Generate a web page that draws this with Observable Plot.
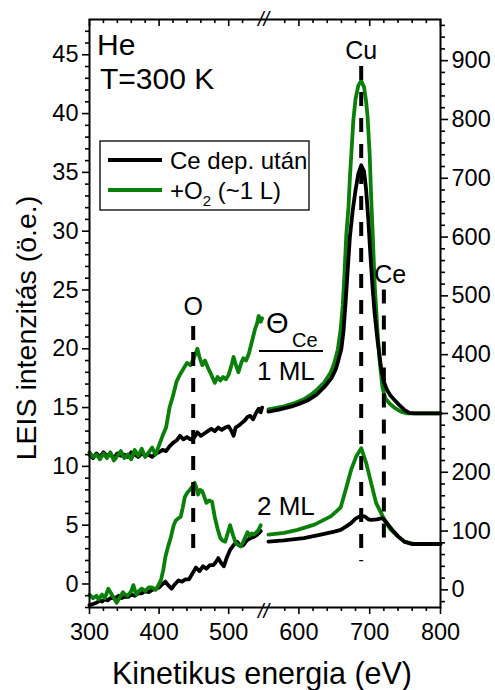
<!DOCTYPE html>
<html>
<head>
<meta charset="utf-8">
<script src="https://cdn.jsdelivr.net/npm/d3@7"></script>
<script src="https://cdn.jsdelivr.net/npm/@observablehq/plot@0.6"></script>
<style>
  html, body { margin: 0; padding: 0; background: #fff; }
  #chart { width: 495px; height: 690px; }
  #chart svg { font-family: "Liberation Sans", Arial, sans-serif; }
</style>
</head>
<body>
<div id="chart"></div>
<script>
// LEIS spectra (He+, T = 300 K). Below the axis break (300–550 eV) values are in
// left-axis units; above it (550–800 eV) they are in right-axis units.

// ---- low-energy section (left axis, a.u.) ----
const ml1CeLow = [[300,11.0],[305,10.7],[310,11.1],[315,10.8],[320,11.2],[325,10.9],[330,11.0],[335,10.7],[340,11.1],[345,10.9],[350,11.0],[355,10.8],[360,11.2],[365,11.0],[370,10.8],[375,11.1],[380,10.9],[385,11.0],[390,10.8],[395,11.1],[400,11.2],[405,11.4],[410,11.3],[415,11.7],[420,12.0],[425,12.2],[430,12.6],[435,12.3],[440,12.5],[445,12.3],[450,12.4],[455,12.9],[460,12.6],[465,12.8],[470,13.0],[475,13.2],[480,13.0],[485,13.3],[490,13.1],[495,13.3],[500,13.4],[504,13.0],[507,12.6],[510,13.3],[515,13.5],[519,13.7],[523,13.9],[527,14.2],[531,14.3],[535,14.0],[539,14.5],[543,14.9],[546,14.6],[548,15.0]];
const ml1O2Low = [[300,11.2],[305,10.8],[310,11.0],[315,10.6],[320,11.1],[325,10.7],[330,11.2],[335,10.5],[340,10.9],[345,11.3],[350,10.7],[355,11.0],[360,10.6],[365,11.4],[370,10.9],[375,11.5],[380,10.8],[385,11.2],[390,11.6],[395,11.0],[400,11.8],[405,12.6],[410,13.3],[415,15.0],[420,16.0],[425,17.2],[430,17.8],[435,18.3],[440,18.8],[445,18.6],[450,19.2],[455,20.0],[458,19.3],[462,18.6],[466,19.0],[470,18.4],[475,17.8],[480,17.1],[484,17.6],[488,17.3],[492,17.6],[496,17.4],[500,17.8],[504,18.6],[507,19.3],[511,18.5],[514,18.0],[518,18.8],[521,19.2],[525,19.0],[529,19.6],[532,20.3],[535,21.0],[538,21.7],[541,22.2],[543,22.8],[546,22.3],[548,22.6]];
const ml2CeLow = [[300,-1.8],[305,-1.7],[310,-1.6],[315,-1.4],[318,-1.5],[322,-1.3],[326,-1.4],[330,-1.2],[337,-1.2],[342,-1.0],[346,-1.2],[350,-1.1],[356,-1.1],[360,-0.9],[365,-1.0],[370,-0.8],[375,-0.8],[380,-0.6],[385,-0.7],[390,-0.5],[395,-0.4],[400,-0.3],[405,0.0],[409,0.2],[413,-0.1],[418,-0.4],[423,0.0],[428,0.3],[433,0.2],[438,0.4],[443,0.4],[448,0.9],[453,1.4],[458,1.1],[463,1.5],[468,1.3],[473,1.6],[478,1.6],[482,1.9],[485,2.2],[489,1.8],[493,1.5],[497,2.2],[502,2.9],[507,3.3],[512,3.6],[517,3.2],[521,3.3],[526,3.7],[531,3.9],[536,4.0],[541,4.2],[546,4.5]];
const ml2O2Low = [[300,-0.9],[305,-1.2],[310,-1.0],[313,-1.3],[318,-0.9],[322,-1.2],[327,-0.4],[332,-0.9],[336,-1.3],[339,-1.6],[344,-1.1],[348,-0.7],[351,-0.9],[355,-1.0],[360,-0.6],[363,-0.1],[367,-0.9],[371,-0.6],[375,-0.4],[380,-0.6],[385,-0.3],[390,-0.3],[395,-0.5],[400,0.0],[403,0.4],[406,1.2],[409,2.3],[413,3.2],[417,4.0],[421,5.0],[424,5.4],[428,5.6],[431,5.7],[434,6.5],[437,7.4],[441,7.8],[444,8.0],[448,8.3],[451,8.6],[454,8.1],[456,7.6],[459,8.0],[462,7.9],[465,7.4],[468,6.9],[472,7.1],[476,7.0],[480,5.7],[484,4.7],[488,3.9],[491,3.7],[495,3.6],[499,4.4],[502,5.0],[506,4.2],[510,3.5],[514,3.3],[517,3.2],[521,3.6],[524,4.0],[527,4.4],[530,4.1],[533,4.3],[536,4.2],[540,4.4],[543,4.6],[546,5.0]];

// ---- high-energy section (right axis, a.u.) ----
const ml1CeHigh = [[557,303],[570,306],[580,309],[590,312],[600,316],[612,322],[625,332],[636,345],[646,360],[652,375],[655,387],[660,410],[663,440],[666,490],[669,545],[672,600],[676,645],[680,680],[684,708],[688,722],[692,712],[695,680],[698,630],[701,570],[704,515],[707,470],[711,425],[716,378],[720,354],[724,341],[729,331],[735,323],[742,314],[749,306],[756,301],[763,300],[780,300],[800,300]];
const ml1O2High = [[557,307],[579,312],[595,318],[607,324],[617,332],[626,341],[636,353],[645,370],[650,386],[655,409],[659,443],[662,485],[664,528],[667,605],[670,650],[672,700],[674,740],[677,800],[680,835],[684,858],[688,866],[692,855],[695,830],[697,805],[700,740],[702,670],[704,612],[707,520],[711,440],[714,390],[718,345],[722,326],[728,317],[736,309],[744,303],[753,300],[780,300],[800,300]];
const ml2CeHigh = [[557,82],[579,84],[607,88],[631,94],[650,99],[659,102],[667,108],[674,114],[680,121],[686,125],[693,125],[698,120],[702,119],[710,120],[718,122],[723,116],[728,108],[734,99],[740,91],[749,82],[759,78],[780,78],[800,78]];
const ml2O2High = [[557,94],[579,97],[598,102],[622,111],[645,125],[659,140],[666,170],[674,205],[681,227],[688,241],[695,216],[702,182],[709,148],[716,131],[723,114],[730,102],[740,91],[749,82],[763,78],[780,78],[800,78]];

// ---- peak positions (eV) ----
const elementNames = ["O", "Cu", "Ce"];
const elementEnergies = [449, 688, 720];

// ---- tick values ----
const xTicks = [300, 400, 500, 600, 700, 800];
const leftTicks = [0, 5, 10, 15, 20, 25, 30, 35, 40, 45];
const rightTicks = [0, 100, 200, 300, 400, 500, 600, 700, 800, 900];
const legendLabels = ["Ce dep. után", "+O", "2", " (~1 L)"];

// right-axis value -> left-axis value
const toLeft = r => r / 20 - 0.5;
const fromLeft = l => Math.round((l + 0.5) * 20);

const low = arr => arr.map(([e, v]) => ({e, v}));
const high = arr => arr.map(([e, v]) => ({e, v: toLeft(v)}));

const GREEN = "#0a800a";
const xMinor = d3.range(300, 801, 20).filter(d => d % 100 !== 0 && d !== 540 && d !== 560);
const leftMinor = d3.range(-2, 48, 1).filter(d => d % 5 !== 0);
const rightMinor = d3.range(-20, 961, 20).filter(d => d % 100 !== 0).map(toLeft);
const tickStyle = {stroke: "black", strokeWidth: 1.6};
const line = (data, color) => Plot.line(data, {x: "e", y: "v", stroke: color, strokeWidth: 3.8, strokeLinejoin: "round", strokeLinecap: "round"});

const chart = Plot.plot({
  width: 495,
  height: 690,
  marginTop: 19,
  marginRight: 55,
  marginBottom: 83,
  marginLeft: 89,
  style: {fontFamily: "Liberation Sans, Arial, sans-serif", background: "white", overflow: "visible"},
  x: {type: "linear", domain: [300, 550, 800], range: [89, 263, 440]},
  y: {domain: [-2, 48]},
  marks: [
    // spectra, low-energy section
    line(low(ml1CeLow), "black"),
    line(low(ml1O2Low), GREEN),
    line(low(ml2CeLow), "black"),
    line(low(ml2O2Low), GREEN),
    // spectra, high-energy section
    line(high(ml1O2High), GREEN),
    line(high(ml1CeHigh), "black"),
    line(high(ml2O2High), GREEN),
    line(high(ml2CeHigh), "black"),
    // peak markers
    Plot.ruleX([elementEnergies[0]], {y1: 21.9, y2: 2.4, stroke: "black", strokeWidth: 4, strokeDasharray: "14,12"}),
    Plot.ruleX([elementEnergies[1]], {y1: 44.0, y2: 1.9, stroke: "black", strokeWidth: 4, strokeDasharray: "14,12"}),
    Plot.ruleX([elementEnergies[2]], {y1: 25.0, y2: 3.0, stroke: "black", strokeWidth: 4, strokeDasharray: "14,12"}),
    Plot.text([0], {x: elementEnergies[0], y: 22.9, text: () => elementNames[0], fontSize: 25, lineAnchor: "bottom"}),
    Plot.text([1], {x: elementEnergies[1], y: 44.6, text: () => elementNames[1], fontSize: 25, lineAnchor: "bottom"}),
    Plot.text([2], {x: elementEnergies[2] + 9, y: 25.6, text: () => elementNames[2], fontSize: 25, lineAnchor: "bottom"}),
    // frame and axes
    Plot.frame({stroke: "black", strokeWidth: 2}),
    Plot.axisY(leftMinor, {anchor: "left", tickSize: 4, tickFormat: () => "", label: null, ...tickStyle}),
    Plot.axisY(leftTicks, {anchor: "left", tickSize: 7, tickPadding: 4, fontSize: 23.5, label: null, ...tickStyle}),
    Plot.axisY(rightMinor, {anchor: "right", tickSize: 4, tickFormat: () => "", label: null, ...tickStyle}),
    Plot.axisY(rightTicks.map(toLeft), {anchor: "right", tickSize: 7, tickPadding: 4, fontSize: 23.5, tickFormat: d => String(fromLeft(d)), label: null, ...tickStyle}),
    Plot.axisX(xMinor, {anchor: "bottom", tickSize: 4, tickFormat: () => "", label: null, ...tickStyle}),
    Plot.axisX(xTicks, {anchor: "bottom", tickSize: 7, tickPadding: 9, fontSize: 23.5, label: null, ...tickStyle}),
    // inward ticks along the top edge
    Plot.ruleX(xTicks, {y1: 48, y2: 47.4, ...tickStyle}),
    Plot.ruleX(xMinor, {y1: 48, y2: 47.65, ...tickStyle}),
    // axis break marks
    Plot.text([550], {x: d => d, frameAnchor: "top", text: () => "//", fontSize: 20, fontStyle: "italic", lineAnchor: "middle"}),
    Plot.text([550], {x: d => d, frameAnchor: "bottom", text: () => "//", fontSize: 20, fontStyle: "italic", lineAnchor: "middle", dy: 4})
  ]
});

document.getElementById("chart").appendChild(chart);

// annotations, legend and axis titles
const svg = d3.select(chart);
const g = svg.append("g")
  .attr("font-family", "Liberation Sans, Arial, sans-serif")
  .attr("fill", "black")
  .attr("text-anchor", "start");

g.append("text").attr("x", 97).attr("y", 55).attr("font-size", 30).text("He");
g.append("text").attr("x", 100).attr("y", 89).attr("font-size", 30).text("T=300 K");

// coverage labels
g.append("text").attr("x", 266).attr("y", 333).attr("font-size", 29).text("\u0398");
g.append("text").attr("x", 292).attr("y", 347).attr("font-size", 20).text("Ce");
g.append("line").attr("x1", 259).attr("x2", 323).attr("y1", 351).attr("y2", 351).attr("stroke", "black").attr("stroke-width", 2);
g.append("text").attr("x", 257).attr("y", 380).attr("font-size", 26).text("1 ML");
g.append("text").attr("x", 257).attr("y", 515).attr("font-size", 26).text("2 ML");

// legend
const lg = g.append("g");
lg.append("rect").attr("x", 100).attr("y", 141).attr("width", 209).attr("height", 69)
  .attr("fill", "white").attr("stroke", "black").attr("stroke-width", 1.3);
lg.append("line").attr("x1", 108).attr("x2", 162).attr("y1", 160).attr("y2", 160).attr("stroke", "black").attr("stroke-width", 4);
lg.append("line").attr("x1", 108).attr("x2", 162).attr("y1", 190).attr("y2", 190).attr("stroke", GREEN).attr("stroke-width", 4);
lg.append("text").attr("x", 170).attr("y", 169).attr("font-size", 24).text(legendLabels[0]);
const t2 = lg.append("text").attr("x", 170).attr("y", 199).attr("font-size", 24);
t2.append("tspan").text(legendLabels[1]);
t2.append("tspan").attr("font-size", 15).attr("dy", 7).text(legendLabels[2]);
t2.append("tspan").attr("dy", -7).text(legendLabels[3]);

// axis titles
g.append("text").attr("transform", "translate(36,328) rotate(-90)").attr("text-anchor", "middle")
  .attr("font-size", 28.5).text("LEIS intenzitás (ö.e.)");
g.append("text").attr("x", 262).attr("y", 684).attr("text-anchor", "middle")
  .attr("font-size", 30.5).text("Kinetikus energia (eV)");
</script>
</body>
</html>
